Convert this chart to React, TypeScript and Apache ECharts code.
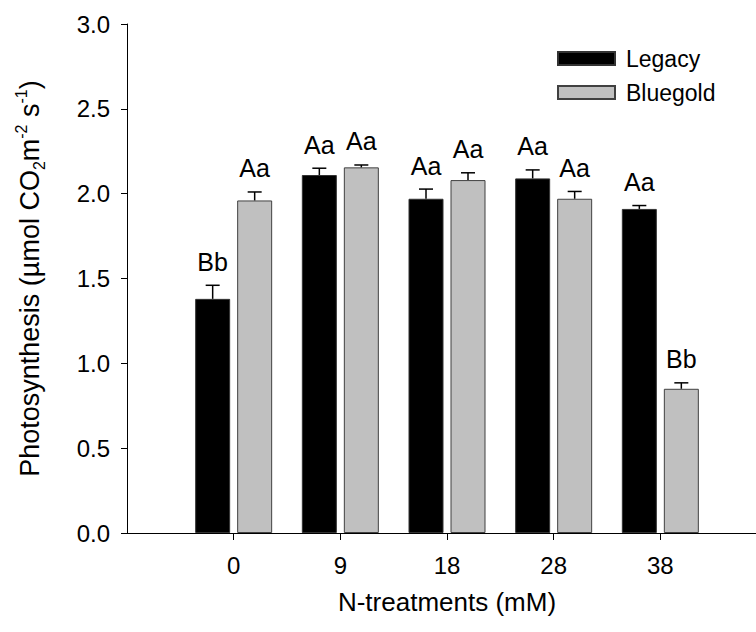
import React, { useEffect, useRef } from "react";
import * as echarts from "echarts";

// N-treatment levels (mM) and per-variety photosynthesis means ± SE
const treatments = ["0", "9", "18", "28", "38"];
const legacyMeans = [1.38, 2.11, 1.97, 2.09, 1.91];
const legacyErr = [0.08, 0.04, 0.057, 0.05, 0.02];
const bluegoldMeans = [1.96, 2.155, 2.08, 1.97, 0.85];
const bluegoldErr = [0.05, 0.014, 0.043, 0.043, 0.035];
const legacyLetters = ["Bb", "Aa", "Aa", "Aa", "Aa"];
const bluegoldLetters = ["Aa", "Aa", "Aa", "Aa", "Bb"];
const yTicks = [0, 0.5, 1, 1.5, 2, 2.5, 3];

const FONT = "Liberation Sans, Arial, sans-serif";
const TICK_FS = 24;
const TITLE_FS = 26;
const LETTER_FS = 25;
const LEGEND_FS = 23;
const BAR_W = 35;
const HALF_SHIFT = 21; // centre of each bar relative to group centre (bar width + gap / 2)

function errorSeries(name: string, means: number[], errs: number[], letters: string[], shift: number) {
  return {
    type: "custom",
    name,
    z: 5,
    clip: false,
    encode: { x: 0, y: 1 },
    data: means.map((m, i) => [i + 1, m, errs[i]]),
    renderItem: (params: any, api: any) => {
      const x = api.value(0);
      const m = api.value(1);
      const e = api.value(2);
      const base = api.coord([x, m]);
      const top = api.coord([x, m + e]);
      const cx = base[0] + shift;
      return {
        type: "group",
        children: [
          { type: "line", shape: { x1: cx, y1: base[1], x2: cx, y2: top[1] }, style: { stroke: "#000", lineWidth: 1.5 } },
          { type: "line", shape: { x1: cx - 7, y1: top[1], x2: cx + 7, y2: top[1] }, style: { stroke: "#000", lineWidth: 1.5 } },
          {
            type: "text",
            x: cx,
            y: top[1] - 11,
            style: {
              text: letters[params.dataIndex],
              fontSize: LETTER_FS,
              fontFamily: FONT,
              fill: "#000",
              align: "center",
              verticalAlign: "bottom",
            },
          },
        ],
      };
    },
  };
}

export default function App() {
  const ref = useRef<HTMLDivElement>(null);

  useEffect(() => {
    if (!ref.current) return;
    const chart = echarts.init(ref.current, undefined, { renderer: "svg" });
    const option: any = {
      animation: false,
      backgroundColor: "#fff",
      textStyle: { fontFamily: FONT, color: "#000" },
      grid: { left: 127, top: 24, width: 640, height: 509 },
      legend: {
        data: ["Legacy", "Bluegold"],
        orient: "vertical",
        left: 557,
        top: 47,
        itemWidth: 57,
        itemHeight: 13,
        itemGap: 11,
        padding: 0,
        icon: "rect",
        textStyle: { fontSize: LEGEND_FS, fontFamily: FONT, color: "#000", padding: [0, 0, 0, 6] },
      },
      xAxis: {
        type: "value",
        min: 0,
        max: 6,
        interval: 1,
        splitLine: { show: false },
        axisLine: { show: true, lineStyle: { color: "#000", width: 1 } },
        axisTick: { show: true, length: 7, customValues: [1, 2, 3, 4, 5], lineStyle: { color: "#000" } },
        axisLabel: {
          customValues: [1, 2, 3, 4, 5],
          formatter: (v: number) => treatments[Math.round(v) - 1] ?? "",
          fontSize: TICK_FS,
          fontFamily: FONT,
          color: "#000",
          margin: 20,
        },
        name: "N-treatments (mM)",
        nameLocation: "middle",
        nameGap: 56,
        nameTextStyle: { fontSize: TITLE_FS, fontFamily: FONT, color: "#000" },
      },
      yAxis: {
        type: "value",
        min: 0,
        max: 3,
        interval: 0.5,
        splitLine: { show: false },
        axisLine: { show: true, lineStyle: { color: "#000", width: 1 } },
        axisTick: { show: true, length: 6, customValues: yTicks, lineStyle: { color: "#000" } },
        axisLabel: {
          customValues: yTicks,
          formatter: (v: number) => v.toFixed(1),
          fontSize: TICK_FS,
          fontFamily: FONT,
          color: "#000",
          margin: 17,
        },
        name: "Photosynthesis (µmol CO{sub|2}m{sup|-2} s{sup|-1})",
        nameLocation: "middle",
        nameRotate: 90,
        nameGap: 80,
        nameTextStyle: {
          fontSize: 27,
          fontFamily: FONT,
          color: "#000",
          lineHeight: 34,
          rich: {
            sub: { fontSize: 16, fontFamily: FONT, color: "#000", verticalAlign: "bottom", lineHeight: 16 },
            sup: { fontSize: 16, fontFamily: FONT, color: "#000", verticalAlign: "top", lineHeight: 16 },
          },
        },
      },
      series: [
        {
          type: "bar",
          name: "Legacy",
          data: legacyMeans.map((v, i) => [i + 1, v]),
          barWidth: BAR_W,
          barGap: "20%",
          itemStyle: { color: "#000", borderColor: "#333", borderWidth: 1 },
        },
        {
          type: "bar",
          name: "Bluegold",
          data: bluegoldMeans.map((v, i) => [i + 1, v]),
          barWidth: BAR_W,
          barGap: "20%",
          itemStyle: { color: "#c0c0c0", borderColor: "#404040", borderWidth: 1 },
        },
        errorSeries("Legacy SE", legacyMeans, legacyErr, legacyLetters, -HALF_SHIFT),
        errorSeries("Bluegold SE", bluegoldMeans, bluegoldErr, bluegoldLetters, HALF_SHIFT),
      ],
    };
    chart.setOption(option);
    return () => chart.dispose();
  }, []);

  return (
    <div style={{ position: "absolute", left: 0, top: 0, width: 756, height: 632, overflow: "hidden", background: "#fff" }}>
      <div ref={ref} style={{ width: 790, height: 632 }} />
    </div>
  );
}
